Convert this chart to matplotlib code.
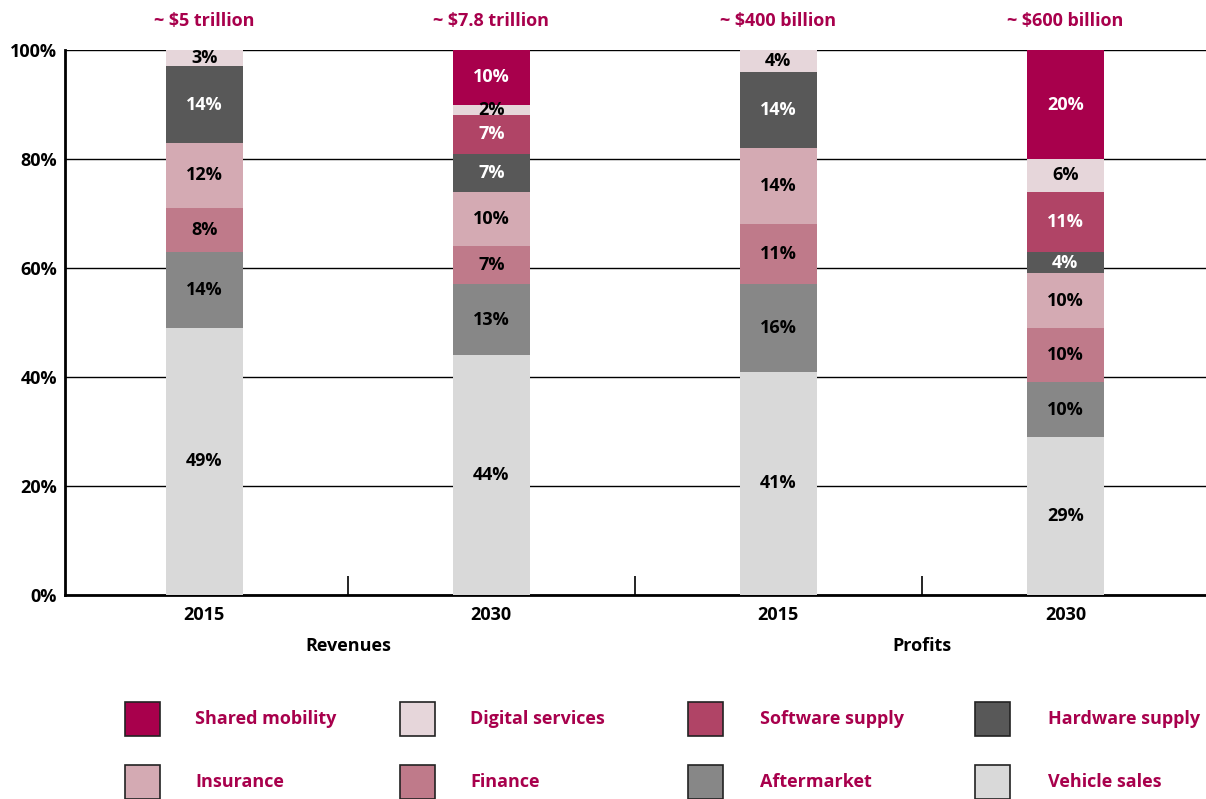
import matplotlib.pyplot as plt
from matplotlib.patches import Rectangle

plt.rcParams["font.family"] = ["Open Sans", "DejaVu Sans"]
plt.rcParams["font.weight"] = "bold"

# Segment shares (%) per bar, stacked from the bottom up
segments = ["Vehicle sales", "Aftermarket", "Finance", "Insurance",
            "Hardware supply", "Software supply", "Digital services", "Shared mobility"]
bar_years = ["2015", "2030", "2015", "2030"]
totals = ["~ $5 trillion", "~ $7.8 trillion", "~ $400 billion", "~ $600 billion"]
groups = ["Revenues", "Profits"]

vehicle_sales = [49, 44, 41, 29]
aftermarket = [14, 13, 16, 10]
finance = [8, 7, 11, 10]
insurance = [12, 10, 14, 10]
hardware_supply = [14, 7, 14, 4]
software_supply = [0, 7, 0, 11]
digital_services = [3, 2, 4, 6]
shared_mobility = [0, 10, 0, 20]

series = [vehicle_sales, aftermarket, finance, insurance,
          hardware_supply, software_supply, digital_services, shared_mobility]

colors = ["#d9d9d9", "#878787", "#bf7a8a", "#d4aab3",
          "#585858", "#b04466", "#e6d6da", "#a8004c"]
label_colors = ["black", "black", "black", "black",
                "white", "white", "black", "white"]
accent = "#a8004c"
fs = 13

fig = plt.figure(figsize=(12.06, 7.99), dpi=100)
ax = fig.add_axes([0.054, 0.2553, 0.946, 0.6821])

x = list(range(len(bar_years)))
bottom = [0] * len(x)
for vals, col, tcol in zip(series, colors, label_colors):
    ax.bar(x, vals, bottom=bottom, width=0.27, color=col, zorder=3)
    for i, v in enumerate(vals):
        if v > 0:
            ax.text(i, bottom[i] + v / 2, f"{v}%", ha="center", va="center",
                    fontsize=fs, color=tcol, zorder=4)
    bottom = [b + v for b, v in zip(bottom, vals)]

for i, t in enumerate(totals):
    ax.text(i, 105.3, t, ha="center", va="center", fontsize=fs, color=accent)

ax.set_xlim(-0.485, 3.49)
ax.set_ylim(0, 100)
ax.set_yticks(range(0, 101, 20))
ax.set_yticklabels([f"{v}%" for v in range(0, 101, 20)], fontsize=fs)
ax.tick_params(axis="y", length=0, pad=6)
ax.yaxis.grid(True, color="black", linewidth=1)
ax.set_axisbelow(True)

ax.set_xticks(x)
ax.set_xticklabels(bar_years, fontsize=fs)
ax.tick_params(axis="x", length=0, pad=8)
# separators between bars
ax.set_xticks([0.5, 1.5, 2.5], minor=True)
ax.tick_params(axis="x", which="minor", direction="in", length=14, width=1.2)

for i, g in enumerate(groups):
    ax.text(0.5 + 2 * i, -9.3, g, ha="center", va="center", fontsize=fs)

for s in ["top", "right"]:
    ax.spines[s].set_visible(False)
ax.spines["left"].set_linewidth(2)
ax.spines["bottom"].set_linewidth(2)

# legend block, four columns by two rows
legend_order = [7, 6, 5, 4, 3, 2, 1, 0]
box_x = [125, 400, 688, 975]
text_x = [195, 470, 760, 1048]
row_y = [719, 782]
for k, idx in enumerate(legend_order):
    r, c = divmod(k, 4)
    bx = box_x[c] / 1206
    by = 1 - (row_y[r] + 17) / 799
    fig.patches.append(Rectangle((bx, by), 35 / 1206, 34 / 799, transform=fig.transFigure,
                                 facecolor=colors[idx], edgecolor="#222222", linewidth=1.2))
    fig.text(text_x[c] / 1206, 1 - row_y[r] / 799, segments[idx], ha="left", va="center",
             fontsize=fs, color=accent)

fig.savefig("out.png", dpi=100)
